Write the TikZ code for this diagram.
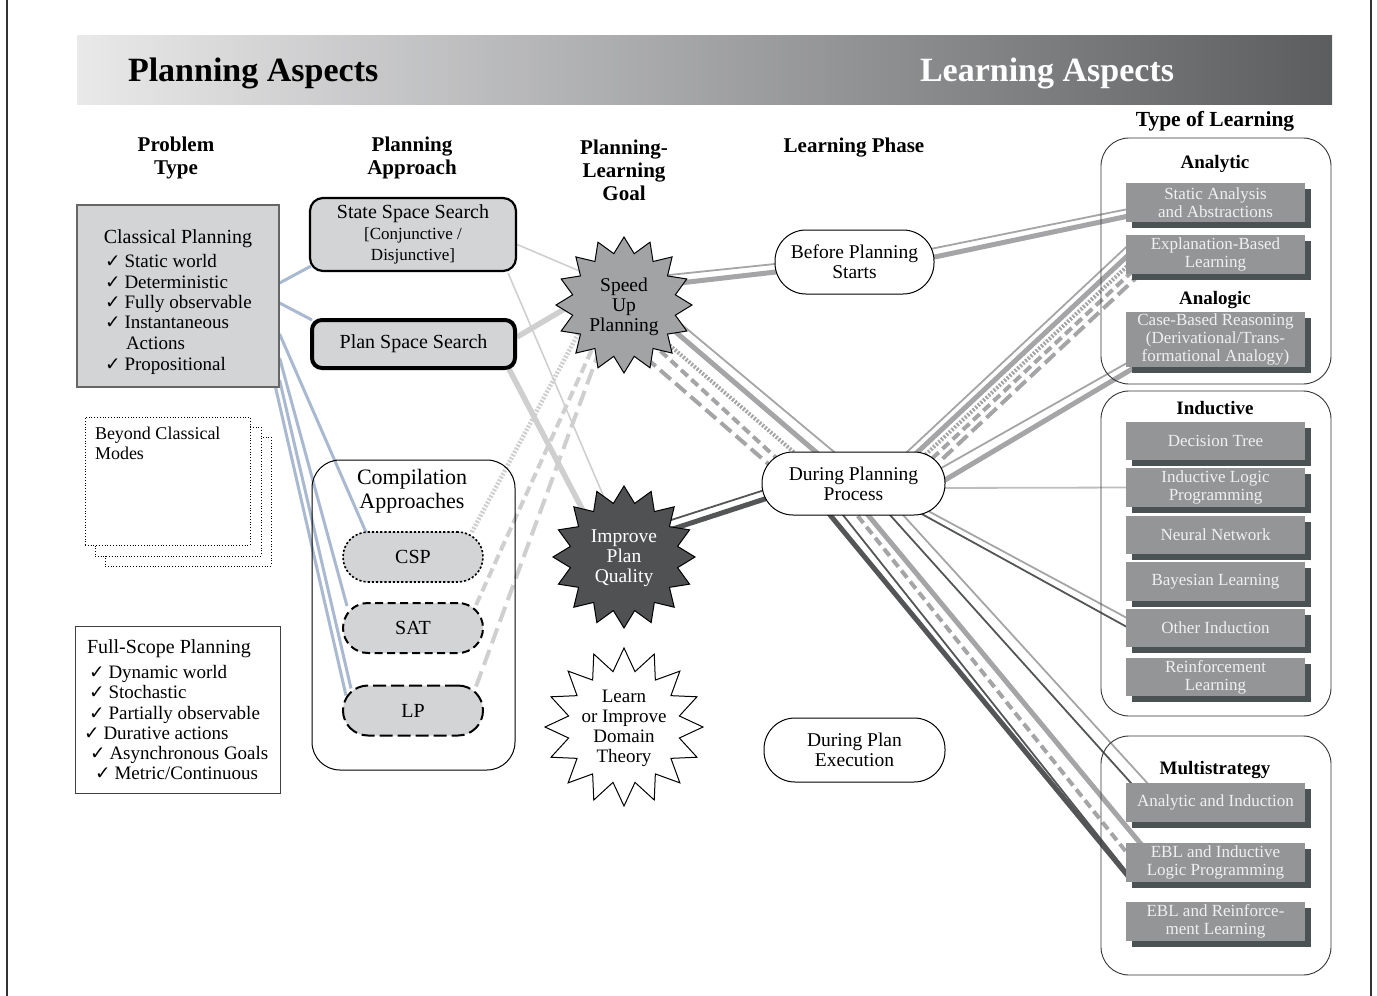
\documentclass[tikz,border=0pt]{standalone}
\usepackage{fontspec}
\setmainfont{Liberation Serif}
\newfontfamily\symfont{DejaVu Sans}
\usetikzlibrary{shapes.geometric,shadows}
\definecolor{boxfill}{HTML}{D3D4D6}
\definecolor{itemfill}{HTML}{949597}
\definecolor{itemshadow}{HTML}{4B5254}
\definecolor{bluel}{HTML}{A9B9CF}
\definecolor{lightl}{HTML}{CFCFCF}
\definecolor{grayl}{HTML}{A5A5A7}
\definecolor{darkl}{HTML}{535557}
\definecolor{ilpl}{HTML}{BDBDBF}
\definecolor{starmid}{HTML}{A2A3A5}
\definecolor{stardark}{HTML}{4F5153}
\definecolor{bandl}{HTML}{E9E9EA}
\definecolor{bandm}{HTML}{B3B4B6}
\definecolor{bandr}{HTML}{5C5D5F}
\pgfdeclarelayer{bg}
\pgfsetlayers{bg,main}
\newcommand\fsz[2]{\fontsize{#1}{#2}\selectfont}
\newcommand\ck{{\symfont\fsz{18.5}{20}✓}}
\begin{document}
\begin{tikzpicture}[x=1pt,y=-1pt,
  txt/.style={inner sep=0pt, outer sep=0pt},
  framel/.style={draw=black!80, line width=1.5pt},
  colhead/.style={txt, font=\bfseries\fsz{21}{23}, align=center},
  item/.style={txt, anchor=base west, font=\fsz{19}{21}},
  bcm/.style={draw=black, dotted, line width=0.8pt, fill=white},
  phase/.style={draw=black, line width=1pt, fill=white, rounded corners=31pt, align=center, font=\fsz{19.5}{20}},
  typebox/.style={draw=black!80, line width=0.9pt, rounded corners=28pt, minimum width=230pt},
  typehead/.style={txt, font=\bfseries\fsz{19}{21}},
  lbox/.style={fill=itemfill, text=white!94!black, minimum width=179pt, align=center, font=\fsz{17}{18}, inner sep=0pt,
     general shadow={fill=itemshadow, shadow xshift=6pt, shadow yshift=-6pt}},
  pillbox/.style={fill=boxfill, draw=black, minimum width=140pt, minimum height=50pt, rounded corners=25pt, font=\fsz{20}{22}},
  starbox/.style={star, star points=16, star point ratio=1.3, draw=black, line width=1pt, inner sep=0pt},
  blueln/.style={draw=bluel, line width=3pt},
  lthin/.style={draw=lightl, line width=1.6pt},
  lthick/.style={draw=lightl, line width=5.5pt},
  ldot/.style={draw=lightl, line width=4.5pt, dash pattern=on 2pt off 1.6pt},
  ldash/.style={draw=lightl, line width=4pt, dash pattern=on 10pt off 5pt},
  llong/.style={draw=lightl, line width=4pt, dash pattern=on 16pt off 7pt},
  gthin/.style={draw=grayl, line width=1.8pt},
  gthick/.style={draw=grayl, line width=5pt},
  gdot/.style={draw=grayl, line width=4pt, dash pattern=on 2pt off 1.6pt},
  gdash/.style={draw=grayl, line width=4pt, dash pattern=on 9pt off 5pt},
  glong/.style={draw=grayl, line width=4pt, dash pattern=on 14pt off 6pt},
  dthin/.style={draw=darkl, line width=1.8pt},
  dthick/.style={draw=darkl, line width=5pt}
]
\useasboundingbox (0,0) rectangle (1377,996);
\draw[framel] (7,0) -- (7,996);
\draw[framel] (1371,0) -- (1371,996);

% header band
\node[txt, minimum width=1255pt, minimum height=69pt, left color=bandl, middle color=bandm, right color=bandr] (band) at (704.5,69.5) {};
\node[txt, anchor=base west, font=\bfseries\fsz{34}{36}] (pa) at (128,81) {Planning Aspects};
\node[txt, anchor=base west, font=\bfseries\fsz{34}{36}, text=white] (la) at (920,81) {Learning Aspects};

% column headers
\node[colhead] (hpt) at (176,158) {Problem\\Type};
\node[colhead] (hpa) at (412,158) {Planning\\Approach};
\node[colhead] (hgoal) at (624,170) {Planning-\\Learning\\Goal};
\node[colhead] (hlp) at (854,148) {Learning Phase};
\node[colhead, font=\bfseries\fsz{21.5}{23}] (htl) at (1215,121) {Type of Learning};

% classical planning
\node[draw=black!60, line width=1.2pt, fill=boxfill, minimum width=202pt, minimum height=182pt] (cp) at (178,296) {};
\node[txt, anchor=base, font=\fsz{20}{22}] (cpt) at (178,243) {Classical Planning};
\node[item] (cp1) at (105,267) {\ck\hspace{4pt}Static world};
\node[item] (cp2) at (105,288) {\ck\hspace{4pt}Deterministic};
\node[item] (cp3) at (105,308) {\ck\hspace{4pt}Fully observable};
\node[item] (cp4) at (105,328) {\ck\hspace{4pt}Instantaneous};
\node[item] (cp5) at (126,349) {Actions};
\node[item] (cp6) at (105,370) {\ck\hspace{4pt}Propositional};

% beyond classical
\node[bcm, minimum width=166pt, minimum height=129pt] (bc3) at (188,501.5) {};
\node[bcm, minimum width=166pt, minimum height=129pt] (bc2) at (178,491.5) {};
\node[bcm, minimum width=165pt, minimum height=128pt] (bc1) at (167.5,481) {};
\node[txt, anchor=north west, align=left, font=\fsz{18}{20}] (bct) at (95,427) {Beyond Classical\\Modes};

% full scope
\node[draw=black!75, line width=1pt, fill=white, minimum width=205pt, minimum height=167pt] (fs) at (177.5,709.5) {};
\node[txt, anchor=base west, font=\fsz{20}{22}] (fst) at (87,653) {Full-Scope Planning};
\node[item] (fs1) at (89,678) {\ck\hspace{4pt}Dynamic world};
\node[item] (fs2) at (89,698) {\ck\hspace{4pt}Stochastic};
\node[item] (fs3) at (89,719) {\ck\hspace{4pt}Partially observable};
\node[item] (fs4) at (84,739) {\ck\hspace{4pt}Durative actions};
\node[item] (fs5) at (90,759) {\ck\hspace{4pt}Asynchronous Goals};
\node[item] (fs6) at (95,779) {\ck\hspace{4pt}Metric/Continuous};

% planning approach
\node[fill=boxfill, draw=black, line width=2.2pt, rounded corners=13pt, minimum width=206pt, minimum height=73pt, align=center, inner sep=0pt, font=\fsz{17}{21}] (sss) at (413,234.5)
  {{\fsz{20}{21}State Space Search}\\\relax[Conjunctive /\\Disjunctive]};
\node[fill=boxfill, draw=black, line width=4pt, rounded corners=10pt, minimum width=203pt, minimum height=48pt, font=\fsz{20}{22}] (pss) at (413.5,344) {Plan Space Search};
\node[draw=black, line width=1pt, rounded corners=28pt, minimum width=203pt, minimum height=310pt] (comp) at (413.5,615) {};
\node[txt, align=center, font=\fsz{22}{24}] (compt) at (412,491) {Compilation\\Approaches};
\node[pillbox, line width=1.6pt, dash pattern=on 2.2pt off 2pt] (csp) at (413,557) {CSP};
\node[pillbox, line width=2pt, dash pattern=on 8pt off 4.5pt] (sat) at (413,628) {SAT};
\node[pillbox, line width=2pt, dash pattern=on 13pt off 5pt] (lp) at (413,710.5) {LP};

% goals
\node[starbox, fill=starmid, minimum size=136pt] (su) at (624,305) {};
\node[txt, align=center, font=\fsz{19.5}{20}] (sut) at (624,307) {Speed\\Up\\Planning};
\node[starbox, fill=stardark, minimum size=142pt] (ipq) at (624,557) {};
\node[txt, align=center, font=\fsz{19.5}{20}, text=white] (ipqt) at (624,558) {Improve\\Plan\\Quality};
\node[starbox, fill=white, star point ratio=1.4, minimum size=158pt] (ldt) at (624,727) {};
\node[txt, align=center, font=\fsz{19}{20}] (ldtt) at (624,728) {Learn\\or Improve\\Domain\\Theory};

% learning phase
\node[phase, minimum width=159pt, minimum height=64pt] (bps) at (854.5,262) {Before Planning\\Starts};
\node[phase, minimum width=183pt, minimum height=63pt] (dpp) at (853.5,483.5) {During Planning\\Process};
\node[phase, minimum width=181pt, minimum height=64pt] (dpe) at (854.5,750) {During Plan\\Execution};

% type of learning containers
\node[typebox, minimum height=246pt] (ana) at (1216,261) {};
\node[typebox, minimum height=325pt] (ind) at (1216,553.5) {};
\node[typebox, minimum height=239pt] (mul) at (1216,855.5) {};
\node[typehead] (anat) at (1215,164) {Analytic};
\node[typehead] (analt) at (1215,300) {Analogic};
\node[typehead] (indt) at (1215,408) {Inductive};
\node[typehead] (mult) at (1215,770) {Multistrategy};

\node[lbox, minimum height=39pt] (sa) at (1215.5,202.5) {Static Analysis\\and Abstractions};
\node[lbox, minimum height=39pt] (ebl) at (1215.5,254.5) {Explanation-Based\\Learning};
\node[lbox, minimum height=55pt] (cbr) at (1215.5,339.5) {Case-Based Reasoning\\(Derivational/Trans-\\formational Analogy)};
\node[lbox, minimum height=38pt] (dt) at (1215.5,441) {Decision Tree};
\node[lbox, minimum height=39pt] (ilp) at (1215.5,487.5) {Inductive Logic\\Programming};
\node[lbox, minimum height=38pt] (nn) at (1215.5,535) {Neural Network};
\node[lbox, minimum height=39pt] (bl) at (1215.5,581.5) {Bayesian Learning};
\node[lbox, minimum height=38pt] (oi) at (1215.5,628) {Other Induction};
\node[lbox, minimum height=38pt] (rl) at (1215.5,677) {Reinforcement\\Learning};
\node[lbox, minimum height=39pt] (ai) at (1215.5,802.5) {Analytic and Induction};
\node[lbox, minimum height=39pt] (ei) at (1215.5,862.5) {EBL and Inductive\\Logic Programming};
\node[lbox, minimum height=39pt] (er) at (1215.5,921.5) {EBL and Reinforce-\\ment Learning};

\begin{pgfonlayer}{bg}
% problem type -> approach
\draw[blueln] ([shift={(0,-13)}]cp.east) -- ([shift={(2,-6)}]sss.south west);
\draw[blueln] ([shift={(0,7)}]cp.east) -- ([shift={(2,2)}]pss.north west);
\draw[blueln] ([shift={(0,38)}]cp.east) -- ([shift={(-47,1)}]csp.north);
\draw[blueln] ([shift={(0,62)}]cp.east) -- ([shift={(5,-22)}]sat.west);
\draw[blueln] ([shift={(0,84)}]cp.east) -- ([shift={(9,-22)}]lp.west);
\draw[blueln] ([shift={(-4,0)}]cp.south east) -- ([shift={(4,-15)}]lp.west);
% approach -> goal
\draw[lthin] ([shift={(0,10)}]sss.east) -- ([shift={(-14,-21)}]su.center);
\draw[lthin] ([shift={(-9,1)}]sss.south east) -- ([shift={(-12,-41)}]ipq.center);
\draw[lthick] ([shift={(0,-7)}]pss.east) -- ([shift={(-24,-17)}]su.center);
\draw[lthick] ([shift={(-8,-1)}]pss.south east) -- ([shift={(-24,-14)}]ipq.center);
\draw[ldot] ([shift={(-12,1)}]csp.north east) -- ([shift={(-32,3)}]su.center);
\draw[ldash] ([shift={(-8,3)}]sat.north east) -- ([shift={(-21,20)}]su.center);
\draw[llong] ([shift={(-8,2)}]lp.north east) -- ([shift={(-17,25)}]su.center);
% goal -> phase
\draw[gthin] ([shift={(16,-27)}]su.center) -- ([shift={(10,1)}]bps.west);
\draw[gthick] ([shift={(21,-18)}]su.center) -- ([shift={(10,9)}]bps.west);
\draw[gthin] ([shift={(26,-7)}]su.center) -- ([shift={(-8,-22)}]dpp.center);
\draw[gthick] ([shift={(26,5)}]su.center) -- ([shift={(-23,-19)}]dpp.center);
\draw[gdot] ([shift={(21,19)}]su.center) -- ([shift={(-43,-17)}]dpp.center);
\draw[gdash] ([shift={(16,27)}]su.center) -- ([shift={(-68,-17)}]dpp.center);
\draw[glong] ([shift={(6,39)}]su.center) -- ([shift={(-73,-9)}]dpp.center);
\draw[dthin] ([shift={(16,-27)}]ipq.center) -- ([shift={(-78,3)}]dpp.center);
\draw[dthick] ([shift={(21,-19)}]ipq.center) -- ([shift={(-78,12)}]dpp.center);
% phase -> type of learning
\draw[gthin] ([shift={(66,-11)}]bps.center) -- ([shift={(-75,4)}]sa.center);
\draw[gthick] ([shift={(66,-2)}]bps.center) -- ([shift={(-75,11)}]sa.center);
\draw[gthin] ([shift={(47.5,-25.9)}]dpp.center) -- ([shift={(-85.5,-11)}]ebl.center);
\draw[gthick] ([shift={(54.5,-22.5)}]dpp.center) -- ([shift={(-82.5,-3.8)}]ebl.center);
\draw[gdot] ([shift={(61.5,-19)}]dpp.center) -- ([shift={(-75.5,-0.3)}]ebl.center);
\draw[gdash] ([shift={(68.5,-15.5)}]dpp.center) -- ([shift={(-70.5,5)}]ebl.center);
\draw[glong] ([shift={(74.5,-11.1)}]dpp.center) -- ([shift={(-65.5,10.3)}]ebl.center);
\draw[gthin] ([shift={(79.5,-10.8)}]dpp.center) -- ([shift={(-78.5,17.8)}]cbr.center);
\draw[gthick] ([shift={(81.5,2.4)}]dpp.center) -- ([shift={(-75.5,24.8)}]cbr.center);
\draw[draw=ilpl, line width=1.8pt] ([shift={(81.5,4.5)}]dpp.center) -- ([shift={(-80.5,0)}]ilp.center);
\draw[gthin] ([shift={(66.5,23.1)}]dpp.center) -- ([shift={(-75.5,-3)}]oi.center);
\draw[dthin] ([shift={(56.5,24)}]dpp.center) -- ([shift={(-75.5,6.2)}]oi.center);
\draw[gthin] ([shift={(40.4,21.5)}]dpp.center) -- ([shift={(-65.5,-16.5)}]ai.center);
\draw[dthin] ([shift={(27.5,21.5)}]dpp.center) -- ([shift={(-75.5,-9.5)}]ai.center);
\draw[dthick] ([shift={(-31.7,21.5)}]dpp.center) -- ([shift={(-87.5,13.5)}]ei.center);
\draw[dthin] ([shift={(-18.5,21.5)}]dpp.center) -- ([shift={(-85.5,13.3)}]ei.center);
\draw[gdash] ([shift={(-4.5,21.5)}]dpp.center) -- ([shift={(-80.5,0.5)}]ei.center);
\draw[gthick] ([shift={(6.2,21.5)}]dpp.center) -- ([shift={(-70.5,-13.5)}]ei.center);
\end{pgfonlayer}
\end{tikzpicture}
\end{document}
